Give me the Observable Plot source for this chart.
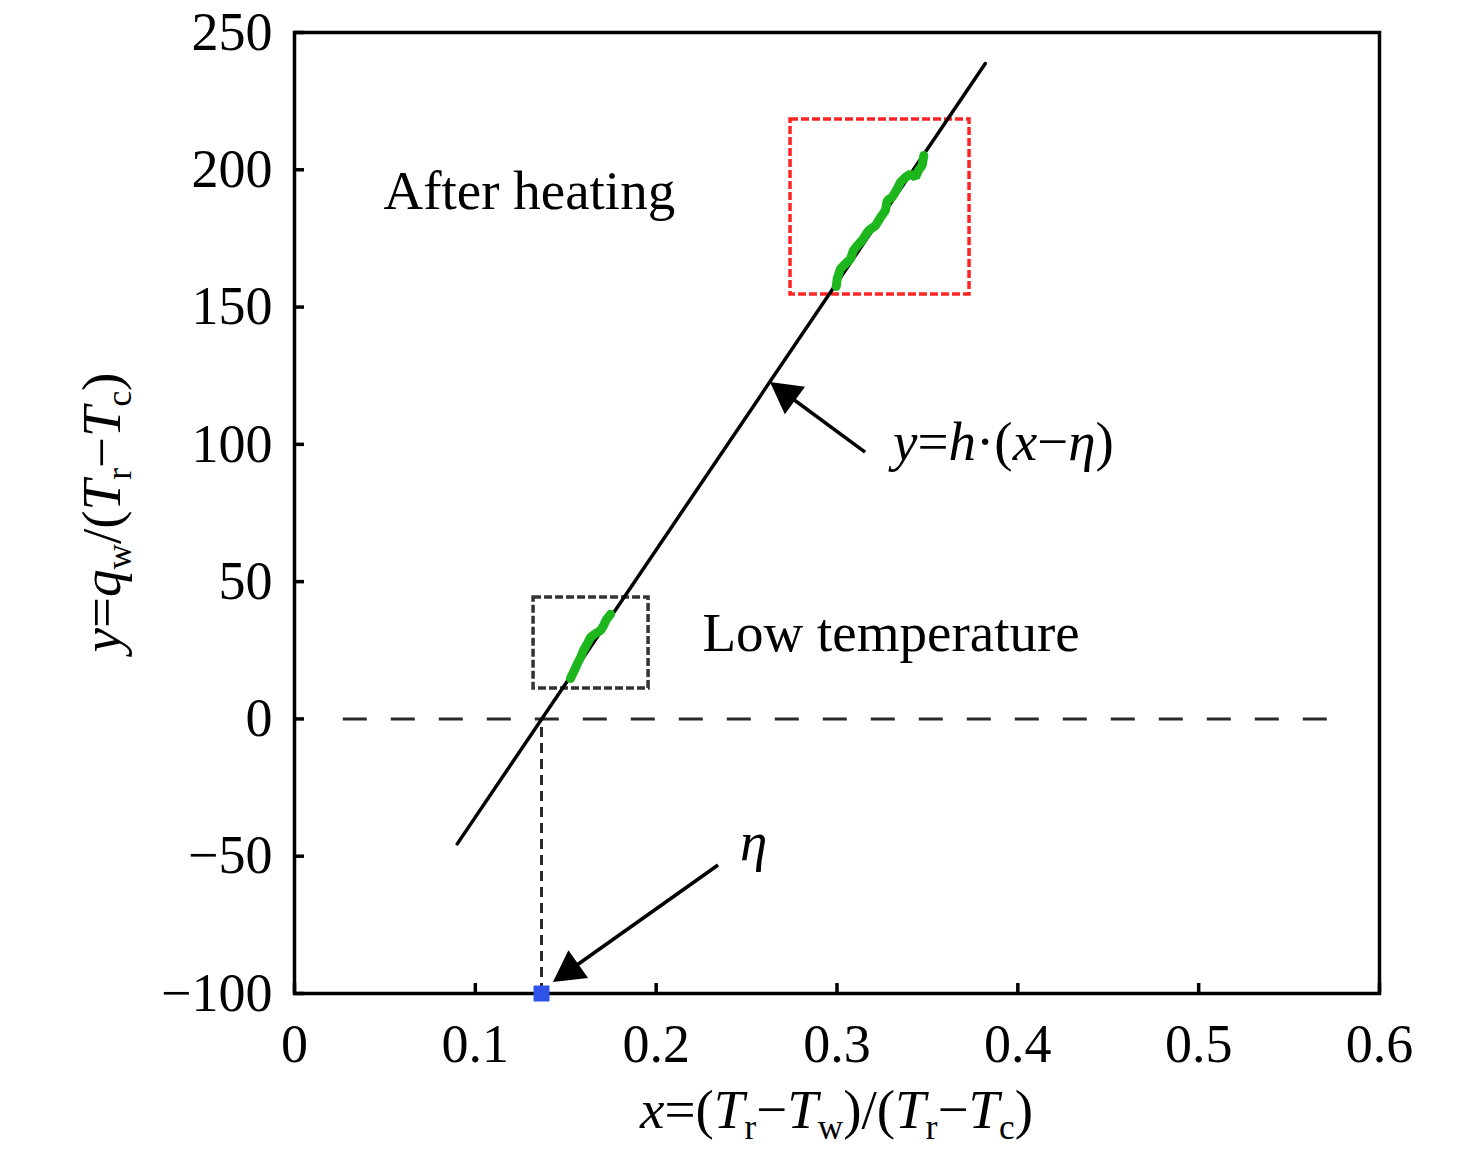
<!DOCTYPE html>
<html><head><meta charset="utf-8">
<script src="https://cdn.jsdelivr.net/npm/d3@7"></script>
<script src="https://cdn.jsdelivr.net/npm/@observablehq/plot@0.6"></script>
<style>body{margin:0;background:#fff} #chart svg{display:block}</style>
</head><body><div id="chart"></div>
<script>
// ---------- data ----------
const xTicks = [0, 0.1, 0.2, 0.3, 0.4, 0.5, 0.6];
const xTickLabels = ["0", "0.1", "0.2", "0.3", "0.4", "0.5", "0.6"];
const yTicks = [-100, -50, 0, 50, 100, 150, 200, 250];
const yTickLabels = ["\u2212100", "\u221250", "0", "50", "100", "150", "200", "250"];

const fitX = [0.090, 0.382];
const fitY = [-45.5, 238.7];
const eta = 0.1366;
const zeroLineX = [0.027, 0.573];

const highX = [0.2996,0.3001,0.3019,0.3047,0.3075,0.3090,0.3112,0.3139,0.3160,0.3176,0.3213,0.3241,0.3268,0.3278,0.3305,0.3333,0.3351,0.3379,0.3406,0.3434,0.3450,0.3471,0.3480];
const highY = [157.5,160.3,163.9,165.8,167.6,170.5,172.4,174.3,176.5,177.9,179.7,182.7,185.2,188.8,190.0,193.1,195.5,197.3,198.5,197.3,199.7,201.6,205.2];
const lowX = [0.1526,0.1548,0.1565,0.1582,0.1598,0.1620,0.1637,0.1665,0.1692,0.1709,0.1725,0.1748];
const lowY = [14.7,17.7,20.2,22.4,24.9,27.5,29.7,31.1,32.2,34.0,36.2,38.1];

const boxNames = ["After heating", "Low temperature"];
const boxX1 = [0.2743, 0.1322];
const boxX2 = [0.3733, 0.1958];
const boxY1 = [154.6, 11.1];
const boxY2 = [218.3, 44.2];

const arrowNames = ["fit", "eta"];
const arrowX1 = [0.3158, 0.2345];
const arrowY1 = [97.0, -53.4];
const arrowX2 = [0.2632, 0.1432];
const arrowY2 = [122.5, -96.0];

const labelAfter = "After heating";
const labelAfterPos = [0.0492, 185.9];
const labelLow = "Low temperature";
const labelLowPos = [0.2256, 24.9];
const labelFit = [["y","i"],["=",""],["h","i"],["\u00b7(",""],["x","i"],["\u2212",""],["\u03b7","i"],[")",""]];
const labelFitPos = [0.3313, 94.1];
const labelEta = [["\u03b7","i"]];
const labelEtaPos = [0.2466, -51.5];
const xTitle = [["x","i"],["=(",""],["T","i"],["r","s"],["\u2212",""],["T","i"],["w","s"],[")/(",""],["T","i"],["r","s"],["\u2212",""],["T","i"],["c","s"],[")",""]];
const xTitlePos = [0.3, -100];
const yTitle = [["y","i"],["=",""],["q","i"],["w","s"],["/(",""],["T","i"],["r","s"],["\u2212",""],["T","i"],["c","s"],[")",""]];
const yTitlePos = [0, 75];

// ---------- helpers ----------
const FONT = "'Liberation Serif', 'Times New Roman', serif";
const highData = highX.map((x, i) => ({x, y: highY[i]}));
const lowData = lowX.map((x, i) => ({x, y: lowY[i]}));
const fitData = fitX.map((x, i) => ({x, y: fitY[i]}));
const boxes = boxNames.map((n, i) => ({n, x1: boxX1[i], x2: boxX2[i], y1: boxY1[i], y2: boxY2[i]}));
const arrows = arrowNames.map((n, i) => ({n, x1: arrowX1[i], y1: arrowY1[i], x2: arrowX2[i], y2: arrowY2[i]}));

function richText(parts, pos, {size = 55, anchor = "start", dx = 0, dy = 0, rotate = 0} = {}) {
  return Plot.text([{x: pos[0], y: pos[1]}], {
    x: "x", y: "y", text: () => parts.map(p => p[0]).join(""),
    render(index, scales, values) {
      const g = d3.create("svg:g");
      for (const i of index) {
        const t = g.append("text")
          .attr("transform", `translate(${values.x[i] + dx},${values.y[i] + dy})` + (rotate ? ` rotate(${rotate})` : ""))
          .attr("text-anchor", anchor)
          .attr("font-family", FONT)
          .attr("font-size", size)
          .attr("fill", "#000");
        let shifted = false;
        for (const [s, st] of parts) {
          const ts = t.append("tspan").text(s);
          if (st.includes("i")) ts.attr("font-style", "italic");
          if (st.includes("s")) {
            ts.attr("font-size", size * 0.64);
            if (!shifted) ts.attr("dy", size * 0.2);
            shifted = true;
          } else if (shifted) {
            ts.attr("dy", -size * 0.2);
            shifted = false;
          }
        }
      }
      return g.node();
    }
  });
}

const arrowMark = Plot.arrow(arrows, {
  x1: "x1", y1: "y1", x2: "x2", y2: "y2", stroke: "#000", strokeWidth: 3, headLength: 0,
  render(index, scales, values) {
    const g = d3.create("svg:g");
    const L = 31, W = 17;
    for (const i of index) {
      const X1 = values.x1[i], Y1 = values.y1[i], X2 = values.x2[i], Y2 = values.y2[i];
      const a = Math.atan2(Y2 - Y1, X2 - X1);
      const c = Math.cos(a), s = Math.sin(a);
      const bx = X2 - L * c, by = Y2 - L * s;
      g.append("line").attr("x1", X1).attr("y1", Y1).attr("x2", bx + 2 * c).attr("y2", by + 2 * s)
        .attr("stroke", "#000").attr("stroke-width", 3.5);
      g.append("path")
        .attr("d", `M${X2},${Y2}L${bx - W * s},${by + W * c}L${bx + W * s},${by - W * c}Z`)
        .attr("fill", "#000");
    }
    return g.node();
  }
});

const plot = Plot.plot({
  width: 1476, height: 1163,
  marginLeft: 294, marginRight: 97, marginTop: 32, marginBottom: 170,
  style: {fontFamily: FONT, fontSize: "54px", color: "#000", background: "#fff", overflow: "visible"},
  x: {domain: [0, 0.6]},
  y: {domain: [-100, 250]},
  marks: [
    Plot.axisX({ticks: xTicks, tickFormat: d => xTickLabels[xTicks.indexOf(d)], tickSize: -10, tickPadding: 40, strokeWidth: 3.5, label: null, fontSize: 54}),
    Plot.axisY({ticks: yTicks, tickFormat: d => yTickLabels[yTicks.indexOf(d)], tickSize: -10, tickPadding: 32, strokeWidth: 3.5, label: null, fontSize: 54}),
    Plot.rect(boxes, {x1: "x1", x2: "x2", y1: "y1", y2: "y2", fill: "none",
      stroke: d => d.n === "After heating" ? "#ff2424" : "#333",
      strokeWidth: 3.5, strokeDasharray: "8,3"}),
    Plot.ruleY([0], {x1: zeroLineX[0], x2: zeroLineX[1], stroke: "#2a2a2a", strokeWidth: 3, strokeDasharray: "24,24"}),
    Plot.ruleX([eta], {y1: -100, y2: 0, stroke: "#2a2a2a", strokeWidth: 3, strokeDasharray: "10,6"}),
    Plot.line(fitData, {x: "x", y: "y", stroke: "#000", strokeWidth: 3.5}),
    Plot.line(highData, {x: "x", y: "y", stroke: "#1db71d", strokeWidth: 9, strokeLinejoin: "miter", strokeLinecap: "round"}),
    Plot.line(lowData, {x: "x", y: "y", stroke: "#1db71d", strokeWidth: 9, strokeLinejoin: "miter", strokeLinecap: "round"}),
    arrowMark,
    Plot.text([labelAfter], {x: labelAfterPos[0], y: labelAfterPos[1], text: d => d, textAnchor: "start", lineAnchor: "bottom", fontSize: 55, fill: "#000"}),
    Plot.text([labelLow], {x: labelLowPos[0], y: labelLowPos[1], text: d => d, textAnchor: "start", lineAnchor: "bottom", fontSize: 55, fill: "#000"}),
    richText(labelFit, labelFitPos, {size: 55}),
    richText(labelEta, labelEtaPos, {size: 55}),
    richText(xTitle, xTitlePos, {size: 55, anchor: "middle", dy: 135}),
    richText(yTitle, yTitlePos, {size: 55, anchor: "middle", dx: -174, rotate: -90}),
    Plot.frame({stroke: "#000", strokeWidth: 3.5}),
    Plot.dot([{x: eta, y: -100}], {x: "x", y: "y", symbol: "square", r: 9, fill: "#2f52e8", stroke: "none"})
  ]
});
document.getElementById("chart").appendChild(plot);
</script>
</body></html>
